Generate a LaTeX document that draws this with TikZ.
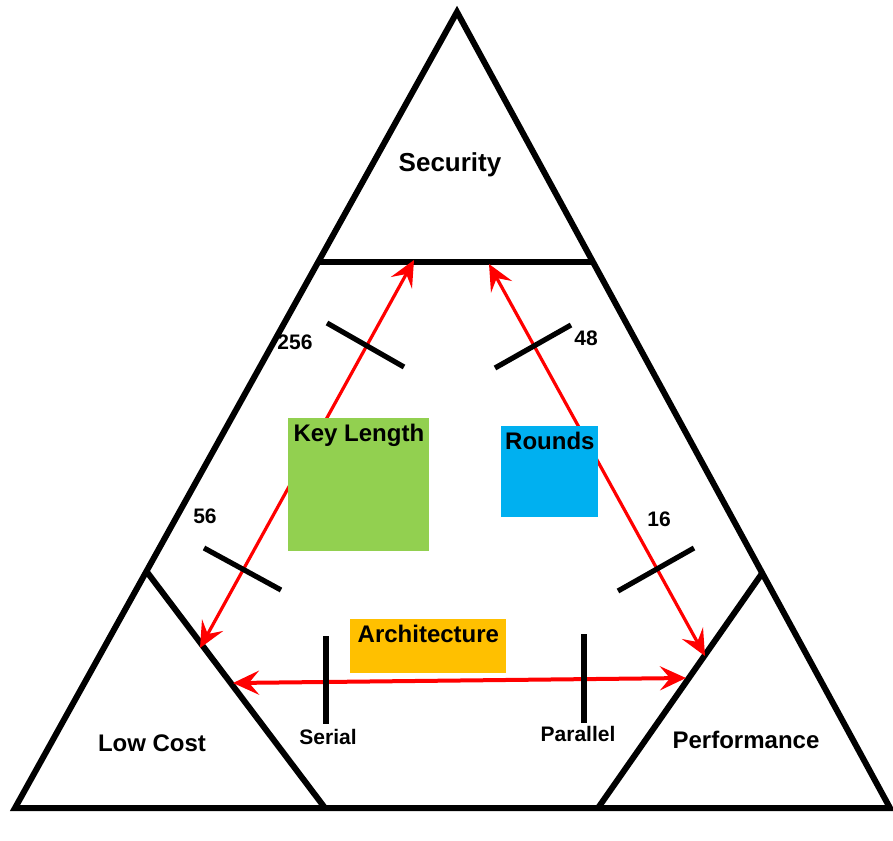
\documentclass[tikz,border=0pt]{standalone}
\usepackage{fontspec}
\setmainfont{Liberation Sans}
\usetikzlibrary{arrows.meta}

\definecolor{keygreen}{HTML}{92D050}
\definecolor{roundblue}{HTML}{00B0F0}
\definecolor{archorange}{HTML}{FFC000}

\begin{document}
\begin{tikzpicture}[
    x=0.5pt, y=-0.5pt,
    edge/.style={line width=3pt},
    notch/.style={line width=2.6pt},
    trade/.style={draw=red, line width=1.6pt, {Stealth[length=13pt,width=12pt,inset=5pt]}-{Stealth[length=13pt,width=12pt,inset=5pt]}},
    corner/.style={font=\fontsize{12}{14}\selectfont\bfseries},
    value/.style={font=\fontsize{10.5}{12}\selectfont\bfseries},
    factor/.style={rectangle, inner sep=0pt, anchor=north west},
    factorname/.style={corner, anchor=north, inner xsep=1pt, inner ysep=3pt}
]
\useasboundingbox (0,0) rectangle (893,840);

% Outer triangle and the three corner triangles
\coordinate (apex) at (457,12);
\coordinate (bl) at (15,808);
\coordinate (br) at (890,808);
\coordinate (sl) at (318,262);
\coordinate (sr) at (593,262);
\coordinate (ll) at (147,572);
\coordinate (lr) at (325,808);
\coordinate (rl) at (598,808);
\coordinate (rr) at (763,572);

\draw[edge] (apex) -- (bl) -- (br) -- cycle;
\draw[edge] (sl) -- (sr);
\draw[edge] (ll) -- (lr);
\draw[edge] (rr) -- (rl);

\node[corner, font=\fontsize{13}{15}\selectfont\bfseries] (security) at (450,165) {Security};
\node[corner] (lowcost) at (152,743) {Low Cost};
\node[corner] (performance) at (746,740) {Performance};

% Trade-off arrows
\coordinate (keytop) at (414,260);
\coordinate (keylow) at (200,648);
\coordinate (rndtop) at (489,264);
\coordinate (rndlow) at (705,656);
\coordinate (archl) at (233,683);
\coordinate (archr) at (686,678);

\draw[trade] (keylow) -- (keytop);
\draw[trade] (rndtop) -- (rndlow);
\draw[trade, line width=2pt] (archl) -- (archr);

% Design factors (on top of the arrows)
\node[factor, fill=keygreen, minimum width=70.5pt, minimum height=66.5pt] (keylen) at (288,418) {};
\node[factorname] (keylentext) at (keylen.north) {Key Length};
\node[factor, fill=roundblue, minimum width=48.5pt, minimum height=45.5pt] (rounds) at (501,426) {};
\node[factorname] (roundstext) at (rounds.north) {Rounds};
\node[factor, fill=archorange, minimum width=78pt, minimum height=27pt] (arch) at (350,619) {};
\node[factorname] (archtext) at (arch.north) {Architecture};

% Scale marks
\draw[notch] (327,323) -- (404,367);
\draw[notch] (495,368) -- (571,325);
\draw[notch] (204,548) -- (281,590);
\draw[notch] (618,591) -- (694,548);
\draw[notch] (326,636) -- (326,724);
\draw[notch] (584,634) -- (584,723);

\node[value] (k256) at (295,342) {256};
\node[value] (r48) at (586,338) {48};
\node[value] (k56) at (205,516) {56};
\node[value] (r16) at (659,519) {16};
\node[value] (serial) at (328,737) {Serial};
\node[value] (parallel) at (578,734) {Parallel};

\end{tikzpicture}
\end{document}
